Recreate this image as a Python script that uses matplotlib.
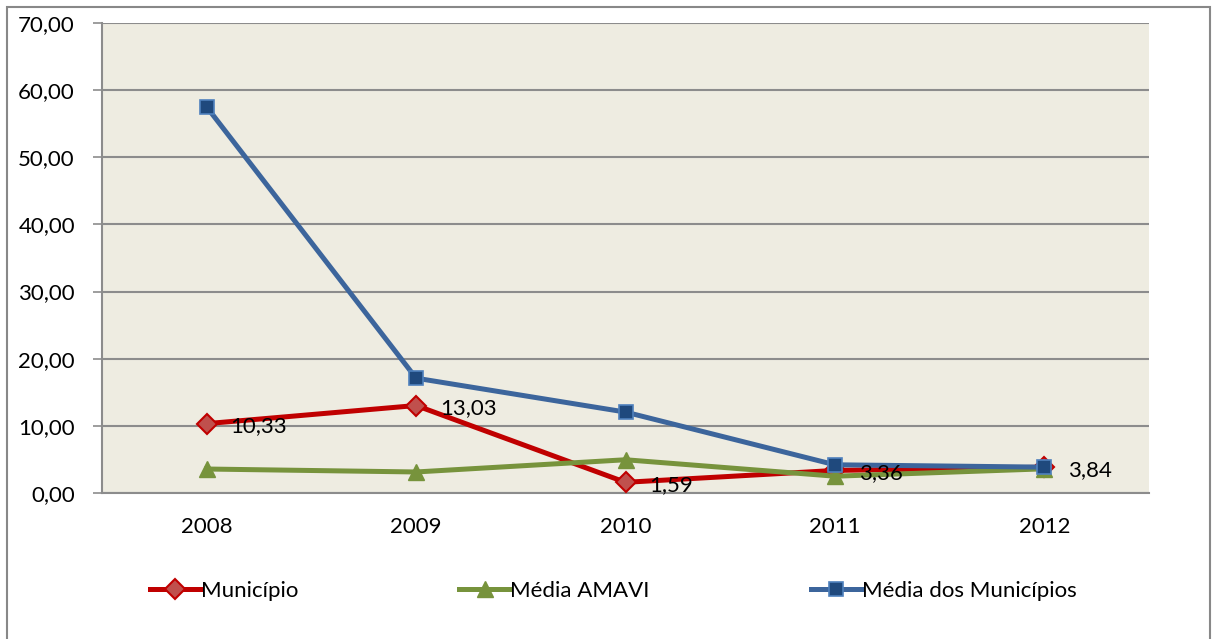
import matplotlib.pyplot as plt
from matplotlib.patches import Rectangle
from matplotlib.ticker import FuncFormatter

# values
anos = ['2008', '2009', '2010', '2011', '2012']
municipio = [10.33, 13.03, 1.59, 3.36, 3.84]
media_amavi = [3.57, 3.13, 4.95, 2.50, 3.60]
media_municipios = [57.5, 17.1, 12.05, 4.2, 3.85]
rotulos_municipio = ['10,33', '13,03', '1,59', '3,36', '3,84']

plt.rcParams['font.family'] = ['Lato', 'DejaVu Sans']

fig = plt.figure(figsize=(12.14, 6.39), dpi=100)
ax = fig.add_axes([0.084, 0.2285, 0.8625, 0.7355])
ax.set_facecolor('#EEECE1')

x = list(range(len(anos)))

ax.plot(x, municipio, color='#C00000', lw=3.6, marker='D', ms=10,
        mfc='#C0504D', mec='#C00000', mew=1.5, label='Município', zorder=3)
ax.plot(x, media_amavi, color='#77933C', lw=3.6, marker='^', ms=11,
        mfc='#77933C', mec='#77933C', label='Média AMAVI', zorder=4)
ax.plot(x, media_municipios, color='#3C659C', lw=3.6, marker='s', ms=10,
        mfc='#1F497D', mec='#4F81BD', mew=1.2, label='Média dos Municípios', zorder=5)

for xi, yi, txt in zip(x, municipio, rotulos_municipio):
    ax.annotate(txt, (xi, yi), xytext=(17, -2), textcoords='offset points',
                ha='left', va='center', fontsize=16, zorder=6)

ax.set_xlim(-0.5, 4.5)
ax.set_ylim(0, 70)
ax.set_yticks(range(0, 71, 10))
ax.yaxis.set_major_formatter(FuncFormatter(lambda v, p: f'{v:.2f}'.replace('.', ',')))
ax.set_xticks(x)
ax.set_xticklabels(anos)

ax.grid(axis='y', color='#8C8C8C', lw=1.5, zorder=1)
ax.set_axisbelow(True)
ax.tick_params(axis='y', length=6.5, width=1.2, color='#8C8C8C', pad=13, labelsize=16)
ax.tick_params(axis='x', length=0, pad=17, labelsize=16)
for side in ['top', 'right']:
    ax.spines[side].set_visible(False)
for side in ['left', 'bottom']:
    ax.spines[side].set_color('#8C8C8C')
    ax.spines[side].set_linewidth(1.5)

fig.legend(loc='center', bbox_to_anchor=(0.505, 0.075), ncol=3, frameon=False,
           fontsize=16, handlelength=2.3, handletextpad=0.0, columnspacing=7.25)

# outer chart border
fig.patches.append(Rectangle((7 / 1214, -0.05), 1203 / 1214, 1.05 - 7 / 639,
                             transform=fig.transFigure, fill=False,
                             edgecolor='#888888', lw=1.5))

fig.savefig('out.png', dpi=100)
